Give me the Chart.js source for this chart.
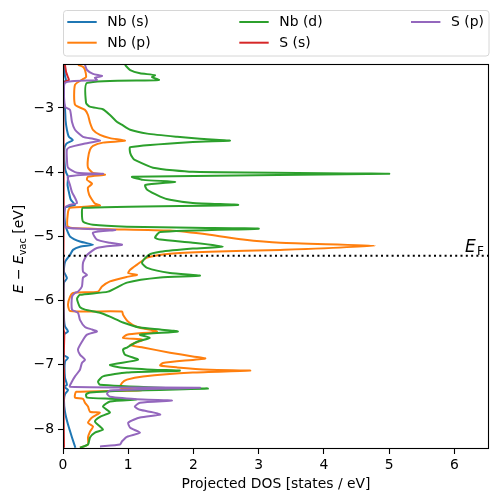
<!DOCTYPE html>
<html><head><meta charset="utf-8">
<script src="https://cdn.jsdelivr.net/npm/chart.js@4.4.1/dist/chart.umd.min.js"></script>
<style>html,body{margin:0;padding:0;background:#fff}#wrap{width:498px;height:502px}</style>
</head><body><div id="wrap"><canvas id="c" width="498" height="502"></canvas></div>
<script>
// ---- data (energy E - E_vac [eV] vs projected DOS [states/eV]) ----
const seriesLabels = ["Nb (s)", "Nb (p)", "Nb (d)", "S (s)", "S (p)"];
const seriesColors = ["#1f77b4", "#ff7f0e", "#2ca02c", "#d62728", "#9467bd"];
const xTicks = [0, 1, 2, 3, 4, 5, 6];
const yTicks = [-8, -7, -6, -5, -4, -3];
const fermiLevel = -5.30;

const nbS_E = [-2.33,-2.50,-2.565,-2.61,-2.92,-3.0,-3.2,-3.34,-3.45,-3.50,-3.56,-3.65,-3.93,-4.01,-4.07,-4.20,-4.31,-4.43,-4.51,-4.555,-4.80,-4.90,-5.0,-5.08,-5.13,-5.16,-5.21,-5.29,-5.40,-5.55,-5.65,-5.72,-6.25,-6.40,-6.48,-6.53,-6.85,-6.89,-6.95,-7.20,-7.31,-7.34,-7.39,-7.46,-7.55,-7.73,-7.93,-8.13,-8.29];
const nbS_dos = [0.015,0.03,0.045,0.015,0.015,0.03,0.04,0.06,0.09,0.15,0.05,0.02,0.03,0.05,0.077,0.07,0.09,0.12,0.184,0.03,0.03,0.06,0.107,0.26,0.46,0.26,0.153,0.107,0.03,0.015,0.06,0.015,0.015,0.03,0.077,0.015,0.015,0.077,0.03,0.03,0.06,0.015,0.077,0.03,0.015,0.03,0.077,0.138,0.19];

const nbP_E = [-2.33,-2.36,-2.41,-2.52,-2.55,-2.64,-2.95,-3.03,-3.11,-3.23,-3.34,-3.42,-3.47,-3.51,-3.54,-3.59,-3.65,-3.79,-3.93,-4.01,-4.04,-4.07,-4.12,-4.18,-4.24,-4.35,-4.43,-4.49,-4.52,-4.555,-4.62,-4.85,-4.88,-4.91,-4.975,-5.05,-5.10,-5.146,-5.21,-5.24,-5.27,-5.33,-5.44,-5.52,-5.57,-5.60,-5.63,-5.70,-5.78,-5.86,-5.88,-5.94,-6.06,-6.16,-6.17,-6.22,-6.33,-6.41,-6.48,-6.53,-6.58,-6.61,-6.69,-6.73,-6.81,-6.87,-6.90,-6.97,-7.01,-7.04,-7.075,-7.09,-7.12,-7.18,-7.23,-7.28,-7.355,-7.395,-7.42,-7.46,-7.51,-7.53,-7.59,-7.65,-7.73,-7.745,-7.82,-7.90,-7.96,-8.04,-8.13,-8.24,-8.29];
const nbP_dos = [0.23,0.307,0.337,0.353,0.307,0.184,0.184,0.337,0.383,0.414,0.46,0.567,0.72,0.95,0.613,0.46,0.414,0.383,0.383,0.46,0.644,0.383,0.368,0.445,0.383,0.40,0.445,0.49,0.567,0.107,0.077,0.077,0.46,1.64,2.25,2.76,3.33,4.78,3.33,2.25,1.64,1.29,1.135,1.03,1.0,1.135,0.98,0.72,0.598,0.537,0.153,0.107,0.077,0.107,0.905,0.92,1.0,1.135,1.44,0.98,0.92,1.227,1.03,1.227,1.64,1.99,2.18,1.53,1.49,1.75,2.25,2.87,1.99,1.227,0.98,0.905,0.874,1.2,0.2,0.184,0.184,0.307,0.337,0.383,0.414,0.567,0.445,0.383,0.46,0.414,0.383,0.383,0.26];

const nbD_E = [-2.33,-2.41,-2.46,-2.49,-2.52,-2.565,-2.61,-2.92,-2.98,-3.02,-3.11,-3.22,-3.26,-3.34,-3.40,-3.45,-3.48,-3.51,-3.53,-3.61,-3.70,-3.78,-3.81,-3.93,-3.995,-4.026,-4.073,-4.12,-4.15,-4.20,-4.275,-4.38,-4.43,-4.48,-4.51,-4.555,-4.62,-4.77,-4.82,-4.85,-4.866,-4.88,-4.93,-5.02,-5.05,-5.10,-5.16,-5.19,-5.24,-5.29,-5.41,-5.49,-5.57,-5.61,-5.64,-5.72,-5.86,-5.91,-5.97,-6.10,-6.14,-6.19,-6.25,-6.34,-6.42,-6.45,-6.48,-6.53,-6.58,-6.64,-6.73,-6.76,-6.84,-6.92,-7.00,-7.04,-7.075,-7.09,-7.12,-7.18,-7.26,-7.31,-7.355,-7.37,-7.40,-7.43,-7.46,-7.51,-7.526,-7.54,-7.57,-7.65,-7.74,-7.81,-7.88,-7.96,-8.01,-8.055,-8.13,-8.24,-8.29];
const nbD_dos = [0.95,1.03,1.18,1.41,1.365,1.47,0.37,0.353,0.41,0.61,0.72,0.83,0.90,1.03,1.29,1.75,2.10,2.56,1.99,1.03,1.03,1.07,1.10,1.38,1.99,5.0,1.06,1.227,1.72,1.26,1.29,1.49,1.64,1.99,2.68,0.307,0.29,0.307,0.46,0.98,1.99,3.0,1.49,1.41,1.49,1.99,2.45,1.99,1.49,1.31,1.21,1.29,1.64,2.10,1.49,0.98,0.69,0.26,0.215,0.26,0.337,0.567,0.72,0.92,1.18,1.49,1.76,1.18,1.33,1.135,0.98,0.92,0.95,1.15,0.72,0.874,1.38,1.79,0.98,0.613,0.537,0.567,1.49,2.22,0.98,0.414,0.353,0.368,0.72,1.135,0.72,0.613,0.72,0.567,0.49,0.567,0.613,0.49,0.414,0.383,0.26];

const sS_E = [-2.33,-2.45,-2.53,-2.565,-2.61,-3.5,-4.5,-5.1,-5.5,-6.45,-6.5,-7.0,-7.1,-7.5,-7.6,-8.29];
const sS_dos = [0.03,0.05,0.08,0.09,0.01,0.008,0.01,0.008,0.006,0.008,0.02,0.008,0.015,0.012,0.008,0.015];

const sP_E = [-2.33,-2.41,-2.47,-2.50,-2.53,-2.565,-2.61,-2.98,-3.03,-3.22,-3.34,-3.45,-3.48,-3.51,-3.56,-3.61,-3.65,-3.79,-3.93,-4.01,-4.026,-4.07,-4.20,-4.31,-4.40,-4.48,-4.51,-4.555,-4.85,-4.88,-4.90,-4.94,-5.05,-5.10,-5.13,-5.18,-5.29,-5.41,-5.55,-5.60,-5.64,-5.78,-5.86,-5.88,-5.94,-6.14,-6.19,-6.30,-6.41,-6.45,-6.48,-6.53,-6.64,-6.76,-6.84,-6.92,-6.97,-7.075,-7.18,-7.26,-7.34,-7.355,-7.40,-7.45,-7.495,-7.54,-7.557,-7.59,-7.65,-7.70,-7.74,-7.775,-7.82,-7.90,-7.98,-8.055,-8.12,-8.19,-8.24,-8.27];
const sP_dos = [0.337,0.368,0.46,0.598,0.49,0.52,0.03,0.03,0.107,0.138,0.184,0.307,0.46,0.567,0.307,0.107,0.06,0.06,0.077,0.215,0.613,0.077,0.107,0.138,0.184,0.215,0.1,0.03,0.03,0.3,0.8,0.46,0.52,0.72,0.905,0.52,0.368,0.307,0.307,0.368,0.307,0.29,0.23,0.184,0.138,0.138,0.23,0.26,0.337,0.445,0.52,0.368,0.29,0.23,0.26,0.337,0.29,0.26,0.184,0.138,0.107,2.10,0.72,0.675,0.72,1.227,1.67,1.18,1.10,1.18,1.38,1.49,1.18,1.0,1.03,1.18,0.98,0.905,0.874,0.567];

const seriesE = [nbS_E, nbP_E, nbD_E, sS_E, sP_E];
const seriesDos = [nbS_dos, nbP_dos, nbD_dos, sS_dos, sP_dos];

const xMin = 0, xMax = 6.53, yMin = -8.31, yMax = -2.316;
const FONT = "'DejaVu Sans', sans-serif";

function toPoints(E, D) { return E.map((e, i) => ({ x: D[i], y: e })); }

const datasets = seriesLabels.map((lab, i) => ({
  label: lab,
  data: toPoints(seriesE[i], seriesDos[i]),
  borderColor: seriesColors[i],
  backgroundColor: seriesColors[i],
  borderWidth: 2,
  pointRadius: 0,
  showLine: true,
  tension: 0.2,
  order: 10 - i
}));
datasets.push({
  label: "EF",
  data: [{ x: xMin, y: fermiLevel }, { x: xMax, y: fermiLevel }],
  borderColor: "#000",
  borderWidth: 2,
  borderDash: [2, 3.3],
  pointRadius: 0,
  showLine: true,
  order: 0
});

const minus = v => String(v).replace('-', '\u2212');

const decor = {
  id: 'decor',
  afterDraw(chart) {
    const ctx = chart.ctx, a = chart.chartArea;
    ctx.save();
    // frame
    ctx.strokeStyle = '#000'; ctx.lineWidth = 1.1;
    ctx.strokeRect(Math.round(a.left) + 0.5, Math.round(a.top) + 0.5, Math.round(a.right - a.left) - 1, Math.round(a.bottom - a.top) - 1);
    // x title
    ctx.fillStyle = '#000';
    ctx.font = "13.9px " + FONT;
    ctx.textAlign = 'center'; ctx.textBaseline = 'middle';
    ctx.fillText('Projected DOS [states / eV]', (a.left + a.right) / 2, 484);
    // y title (rotated, mathtext-like)
    const parts = [
      { t: 'E', f: "italic 13.9px " + FONT, dy: 0 },
      { t: ' \u2212 ', f: "13.9px " + FONT, dy: 0 },
      { t: 'E', f: "italic 13.9px " + FONT, dy: 0 },
      { t: 'vac', f: "9.7px " + FONT, dy: 3 },
      { t: ' [eV]', f: "13.9px " + FONT, dy: 0 }
    ];
    let total = 0;
    parts.forEach(p => { ctx.font = p.f; p.w = ctx.measureText(p.t).width; total += p.w; });
    ctx.translate(23, 249);
    ctx.rotate(-Math.PI / 2);
    ctx.textAlign = 'left'; ctx.textBaseline = 'alphabetic';
    let xx = -total / 2;
    parts.forEach(p => { ctx.font = p.f; ctx.fillText(p.t, xx, p.dy); xx += p.w; });
    ctx.restore();
    ctx.save();
    // E_F label
    const ys = chart.scales.y;
    const yb = ys.getPixelForValue(fermiLevel) - 4;
    ctx.fillStyle = '#000';
    ctx.font = "italic 17px " + FONT;
    ctx.textAlign = 'left'; ctx.textBaseline = 'alphabetic';
    ctx.fillText('E', 465, yb);
    ctx.font = "12px " + FONT;
    ctx.fillText('F', 477, yb + 3);
    // legend
    const lx = 63.5, ly = 10.5, lw = 425.5, lh = 45.5, r = 3;
    ctx.beginPath();
    ctx.moveTo(lx + r, ly); ctx.lineTo(lx + lw - r, ly); ctx.arcTo(lx + lw, ly, lx + lw, ly + r, r);
    ctx.lineTo(lx + lw, ly + lh - r); ctx.arcTo(lx + lw, ly + lh, lx + lw - r, ly + lh, r);
    ctx.lineTo(lx + r, ly + lh); ctx.arcTo(lx, ly + lh, lx, ly + lh - r, r);
    ctx.lineTo(lx, ly + r); ctx.arcTo(lx, ly, lx + r, ly, r); ctx.closePath();
    ctx.fillStyle = 'rgba(255,255,255,0.8)'; ctx.fill();
    ctx.strokeStyle = '#d6d6d6'; ctx.lineWidth = 1; ctx.stroke();
    const cols = [67.3, 239.3, 411];
    const rows = [22, 42.7];
    ctx.font = "13.9px " + FONT; ctx.textBaseline = 'middle';
    seriesLabels.forEach((lab, i) => {
      const c = Math.floor(i / 2), rr = i % 2;
      const x0 = cols[c], y0 = rows[rr];
      ctx.strokeStyle = seriesColors[i]; ctx.lineWidth = 2;
      ctx.beginPath(); ctx.moveTo(x0, y0); ctx.lineTo(x0 + 29.4, y0); ctx.stroke();
      ctx.fillStyle = '#000';
      ctx.fillText(lab, x0 + 40, y0 + 0.5);
    });
    ctx.restore();
  }
};

new Chart(document.getElementById('c'), {
  type: 'scatter',
  data: { datasets },
  options: {
    responsive: false,
    animation: false,
    devicePixelRatio: 1,
    layout: { padding: { left: 0, top: 64, right: 9, bottom: 0 } },
    plugins: { legend: { display: false }, tooltip: { enabled: false } },
    scales: {
      x: {
        type: 'linear', min: xMin, max: xMax,
        afterBuildTicks: s => { s.ticks = xTicks.map(v => ({ value: v })); },
        afterFit: s => { s.height = 53; },
        grid: { drawOnChartArea: false, drawTicks: true, tickLength: 5, tickColor: '#000', tickWidth: 1.1 },
        border: { display: false },
        ticks: { color: '#000', font: { family: FONT, size: 13.9 }, padding: 3, maxRotation: 0, callback: v => minus(v) }
      },
      y: {
        type: 'linear', min: yMin, max: yMax,
        afterBuildTicks: s => { s.ticks = yTicks.map(v => ({ value: v })); },
        afterFit: s => { s.width = 63; },
        grid: { drawOnChartArea: false, drawTicks: true, tickLength: 5, tickColor: '#000', tickWidth: 1.1 },
        border: { display: false },
        ticks: { color: '#000', font: { family: FONT, size: 13.9 }, padding: 4, callback: v => minus(v) }
      }
    }
  },
  plugins: [decor]
});
</script></body></html>
